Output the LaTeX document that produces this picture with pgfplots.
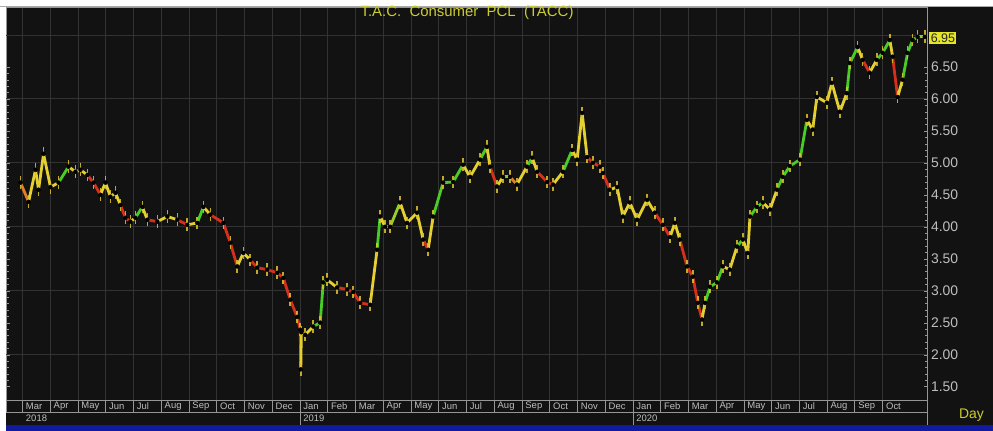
\documentclass[border=0pt]{standalone}
\usepackage{fontspec}
\setmainfont{Liberation Sans}
\usepackage{pgfplots}
\pgfplotsset{compat=1.18}
\usepackage{pgfplotstable}

\definecolor{bg}{RGB}{18,18,18}
\definecolor{gridc}{RGB}{50,50,50}
\definecolor{axc}{RGB}{150,150,150}
\definecolor{lab}{RGB}{190,190,190}
\definecolor{ttl}{RGB}{204,204,50}
\definecolor{pbox}{RGB}{228,228,40}
\definecolor{stripe}{RGB}{18,26,160}
\definecolor{hilo}{RGB}{222,196,44}

% month index: 0 = start of Mar 2018; d = direction of the move (+1 up, -1 down)
\pgfplotstableread{
x y d
-0.07 4.69 0
0.22 4.39 -1
0.47 4.89 1
0.58 4.58 -1
0.76 5.14 1
1.01 4.62 -1
1.30 4.69 1
1.66 4.94 1
1.91 4.86 -1
2.09 4.89 1
2.34 4.81 -1
2.56 4.69 -1
2.81 4.50 -1
2.99 4.69 1
3.17 4.47 -1
3.35 4.53 1
3.53 4.34 -1
3.71 4.14 -1
3.89 4.08 -1
4.07 4.14 1
4.32 4.31 1
4.50 4.11 -1
4.86 4.08 -1
5.22 4.16 1
5.58 4.11 -1
5.94 4.03 -1
6.30 4.06 1
6.52 4.31 1
6.77 4.19 -1
7.24 4.06 -1
7.49 3.75 -1
7.74 3.38 -1
7.96 3.59 1
8.21 3.48 -1
8.46 3.36 -1
8.82 3.33 -1
9.18 3.28 -1
9.40 3.20 -1
9.65 2.86 -1
9.90 2.59 -1
10.01 2.39 -1
10.03 1.77 -1
10.05 2.35 1
10.19 2.31 -1
10.48 2.44 1
10.73 2.50 1
10.84 3.13 1
10.98 3.17 1
11.34 3.05 -1
11.70 3.02 -1
11.92 2.98 -1
12.17 2.81 -1
12.53 2.78 -1
12.78 3.64 1
12.89 4.16 1
13.07 4.00 -1
13.25 4.00 0
13.61 4.38 1
13.86 4.06 -1
14.22 4.22 1
14.44 3.80 -1
14.62 3.64 -1
14.80 4.16 1
15.16 4.69 1
15.52 4.70 1
15.88 4.97 1
16.13 4.78 -1
16.49 5.05 1
16.74 5.25 1
16.85 4.94 -1
17.10 4.63 -1
17.32 4.78 1
17.57 4.78 0
17.82 4.66 -1
18.18 4.94 1
18.37 5.08 1
18.55 4.86 -1
18.91 4.70 -1
19.12 4.66 -1
19.48 4.86 1
19.81 5.20 1
19.99 5.05 -1
20.17 5.78 1
20.35 5.09 -1
20.56 5.00 -1
20.81 4.94 -1
20.92 4.84 -1
21.17 4.58 -1
21.43 4.62 1
21.64 4.16 -1
21.89 4.38 1
22.15 4.11 -1
22.51 4.42 1
22.79 4.22 -1
23.08 4.03 -1
23.34 3.84 -1
23.51 4.06 1
23.69 3.80 -1
23.95 3.38 -1
24.16 3.22 -1
24.34 2.81 -1
24.49 2.55 -1
24.60 2.81 1
24.78 3.06 1
25.03 3.13 1
25.24 3.38 1
25.49 3.33 -1
25.75 3.69 1
25.96 3.80 1
26.14 3.59 -1
26.22 4.16 1
26.47 4.31 1
26.68 4.38 1
26.94 4.27 -1
27.19 4.58 1
27.40 4.78 1
27.66 4.95 1
28.02 5.05 1
28.27 5.67 1
28.48 5.52 -1
28.63 6.03 1
28.99 5.94 -1
29.17 6.25 1
29.46 5.80 -1
29.71 6.09 1
29.82 6.56 1
30.10 6.81 1
30.28 6.61 -1
30.53 6.41 -1
30.79 6.61 1
31.00 6.72 1
31.26 6.92 1
31.36 6.66 -1
31.54 6.03 -1
31.72 6.30 1
31.90 6.72 1
32.08 6.92 1
32.26 6.97 1
32.52 6.97 0
}\prices

\pgfplotsset{
    band/.style={
        scale only axis,
        anchor=south west,
        width=922bp, height=12bp,
        xmin=-0.576, xmax=32.62, ymin=0, ymax=1,
        ytick=\empty,
        axis line style={axc},
        x tick style={draw=none},
        xmajorgrids,
        major grid style={axc, line width=0.8bp},
        xticklabel style={anchor=west, yshift=6bp, xshift=0bp, lab,
            font=\fontsize{9.5}{9.5}\selectfont},
    },
}

\begin{document}
\begin{tikzpicture}[x=1bp,y=1bp]
\fill[white] (0,0) rectangle (993,431);
\fill[bg] (6,6) rectangle (993,424);
\fill[stripe] (6,0) rectangle (993,6);

\begin{axis}[
    name=main,
    at={(6bp,30bp)}, anchor=south west,
    scale only axis, width=922bp, height=394bp,
    xmin=-0.576, xmax=32.62, ymin=1.281, ymax=7.4375,
    axis background/.style={fill=bg},
    axis line style={axc},
    xtick={0,...,31}, xticklabels={}, x tick style={draw=none},
    xmajorgrids,
    ytick={1.5,2,2.5,3,3.5,4,4.5,5,5.5,6,6.5},
    ytick pos=both, yticklabel pos=right,
    tick align=inside,
    minor y tick num=4,
    major tick length=4bp, minor tick length=2.5bp,
    y tick style={axc},
    yticklabel style={lab, font=\fontsize{14}{14}\selectfont,
        /pgf/number format/.cd, fixed, fixed zerofill, precision=2,
        assume math mode=true},
    extra y ticks={2,3,4,5,6,7}, extra y tick labels={},
    extra y tick style={ymajorgrids=true, major tick length=0pt},
    major grid style={gridc, line width=0.8bp},
    colormap={ryg}{rgb255=(214,48,28) rgb255=(228,208,48) rgb255=(74,204,38)},
    point meta min=-1, point meta max=1,
]
\addplot[mesh, point meta=\thisrow{d}, line width=2.8bp,
    line join=round, line cap=round]
    table[x=x, y=y] {\prices};
\addplot[only marks, mark=none, forget plot,
    error bars/.cd, y dir=both, y fixed=0.1, error mark=none,
    error bar style={hilo, opacity=0.85, line width=1.6bp}]
    table[x=x, y=y] {\prices};
\end{axis}

\begin{axis}[band, at={(6bp,18bp)},
    xtick={0,...,31},
    xticklabels={Mar,Apr,May,Jun,Jul,Aug,Sep,Oct,Nov,Dec,
                 Jan,Feb,Mar,Apr,May,Jun,Jul,Aug,Sep,Oct,Nov,Dec,
                 Jan,Feb,Mar,Apr,May,Jun,Jul,Aug,Sep,Oct}]
\end{axis}

\begin{axis}[band, at={(6bp,6bp)},
    axis line style={draw=none},
    xtick={10,22}, xticklabels={2019,2020},
    extra x ticks={0}, extra x tick labels={2018},
    extra x tick style={xmajorgrids=false}]
\end{axis}

\draw[axc, line width=1.2bp] (928,6) -- (928,424);
\draw[axc!80, line width=1bp] (0,424.5) -- (993,424.5);

\node[ttl, font=\fontsize{15}{15}\selectfont] at (467,418.5)
    {T.A.C.\ \ Consumer\ \ PCL\ \ (TACC)};
\node[fill=pbox, text=black!85, font=\fontsize{12.5}{12.5}\selectfont,
    inner xsep=1.5bp, inner ysep=1.5bp, anchor=west] at (929.5,393) {6.95};
\node[ttl, font=\fontsize{14}{14}\selectfont] at (972,15) {Day};
\end{tikzpicture}
\end{document}
